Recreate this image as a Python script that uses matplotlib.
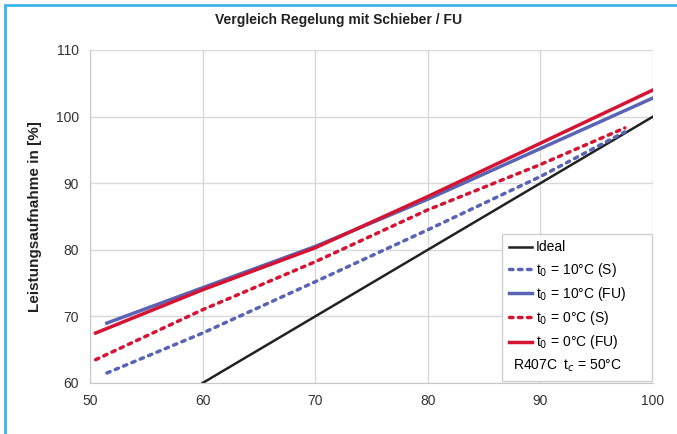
"""Leistungsaufnahme bei Regelung mit Schieber bzw. Frequenzumrichter."""

import matplotlib
matplotlib.use('Agg')
import matplotlib.pyplot as plt
from matplotlib.patches import Rectangle

plt.rcParams['font.family'] = ['Liberation Sans', 'DejaVu Sans']

# Leistung in [%] (x) gegen Leistungsaufnahme in [%] (y)
ideal_x = [60, 100]
ideal_y = [60, 100]

s10_x = [51.5, 60, 70, 80, 90, 97.5]
s10_y = [61.5, 67.5, 75.2, 83.0, 91.0, 97.7]

fu10_x = [51.5, 60, 70, 80, 90, 100]
fu10_y = [69.0, 74.3, 80.5, 87.6, 95.2, 102.8]

s0_x = [50.5, 60, 70, 80, 90, 97.5]
s0_y = [63.5, 71.0, 78.2, 86.0, 92.8, 98.3]

fu0_x = [50.5, 60, 70, 80, 90, 100]
fu0_y = [67.5, 74.0, 80.3, 88.0, 96.0, 104.0]

BLUE = '#5a64b4'
RED = '#d41432'

fig = plt.figure(figsize=(6.77, 4.34), dpi=100)
ax = fig.add_axes([90 / 677, 1 - 383 / 434, (653 - 90) / 677, (383 - 50) / 434])

ax.plot(ideal_x, ideal_y, color='#222222', lw=1.8, label='Ideal')
ax.plot(s10_x, s10_y, color=BLUE, lw=2.5, ls=(0, (1, 1.6)),
        dash_capstyle='round', label='t$_0$ = 10°C (S)')
ax.plot(fu10_x, fu10_y, color=BLUE, lw=2.5, label='t$_0$ = 10°C (FU)')
ax.plot(s0_x, s0_y, color=RED, lw=2.5, ls=(0, (1, 1.6)),
        dash_capstyle='round', label='t$_0$ = 0°C (S)')
ax.plot(fu0_x, fu0_y, color=RED, lw=2.5, label='t$_0$ = 0°C (FU)')
ax.plot([], [], ' ', label='R407C  t$_c$ = 50°C')

ax.set_xlim(50, 100)
ax.set_ylim(60, 110)
ax.set_xticks(range(50, 101, 10))
ax.set_yticks(range(60, 111, 10))
ax.grid(True, color='#d8d8d8', lw=1)
ax.tick_params(length=0, labelsize=10, colors='#333333', pad=8)
for side in ('top', 'right'):
    ax.spines[side].set_visible(False)
for side in ('left', 'bottom'):
    ax.spines[side].set_color('#c8c8c8')

ax.set_ylabel('Leistungsaufnahme in [%]', fontsize=11, fontweight='bold',
              color='#222222', labelpad=10)
fig.text(0.5, 1 - 20 / 434, 'Vergleich Regelung mit Schieber / FU',
         ha='center', va='center', fontsize=10, fontweight='bold', color='#222222')

leg = ax.legend(loc='lower right', fontsize=10, handlelength=1.6,
                handletextpad=0.3, labelspacing=0.45, borderpad=0.5,
                fancybox=False, framealpha=1, edgecolor='#d0d0d0',
                bbox_to_anchor=(1.01, -0.015))
leg.get_texts()[-1].set_position((-23, 0))

# hellblauer Rahmen um die Grafik
fig.patches.append(Rectangle((5 / 677, -0.05), 1.1, 1 - 5 / 434 + 0.05,
                             transform=fig.transFigure, fill=False,
                             edgecolor='#3cb4ec', lw=2))

fig.savefig('out.png', dpi=100)
